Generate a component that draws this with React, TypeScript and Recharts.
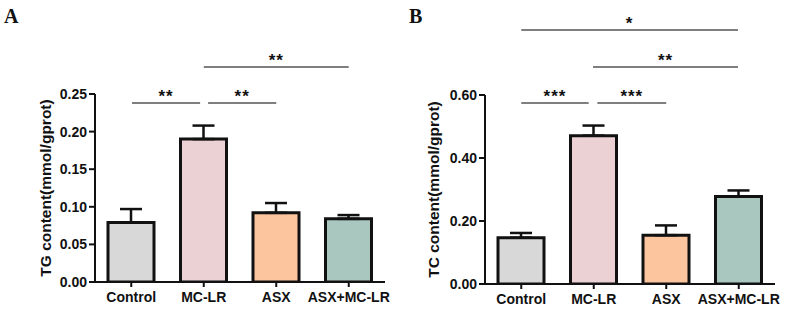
import React from "react";
import { Bar, BarChart, Cell, ErrorBar, ReferenceLine, XAxis, YAxis } from "recharts";

const GROUPS = ["Control", "MC-LR", "ASX", "ASX+MC-LR"];
const COLORS = ["#d8d8d8", "#ebd0d4", "#fdc59d", "#a9c6bf"];

const TG_MEAN = [0.079, 0.19, 0.092, 0.084];
const TG_SEM = [0.018, 0.018, 0.013, 0.005];
const TG_TICKS = [0, 0.05, 0.1, 0.15, 0.2, 0.25];

const TC_MEAN = [0.147, 0.471, 0.155, 0.278];
const TC_SEM = [0.015, 0.032, 0.031, 0.019];
const TC_TICKS = [0, 0.2, 0.4, 0.6];

// brackets: start / end in group units (0.5 = centre of first group), height in y units
const TG_BRACKETS = [
  { x1: 0.51, x2: 1.45, y: 0.238, label: "**" },
  { x1: 1.56, x2: 2.5, y: 0.238, label: "**" },
  { x1: 1.5, x2: 3.5, y: 0.286, label: "**" },
];
const TC_BRACKETS = [
  { x1: 0.5, x2: 1.43, y: 0.575, label: "***" },
  { x1: 1.55, x2: 2.5, y: 0.575, label: "***" },
  { x1: 1.49, x2: 3.49, y: 0.689, label: "**" },
  { x1: 0.5, x2: 3.49, y: 0.806, label: "*" },
];

const FONT = "'Liberation Sans', Arial, sans-serif";
const INK = "#111";

function Panel({
  mean,
  sem,
  ticks,
  brackets,
  title,
  left,
  width,
  margin,
  labelX,
}: {
  mean: number[];
  sem: number[];
  ticks: number[];
  brackets: { x1: number; x2: number; y: number; label: string }[];
  title: string;
  left: number;
  width: number;
  margin: { top: number; right: number; bottom: number; left: number };
  labelX: number;
}) {
  const data = GROUPS.map((g, i) => ({
    name: g,
    slot: i + 0.5,
    value: mean[i],
    err: [0, sem[i]],
  }));
  const top = ticks[ticks.length - 1];

  return (
    <div style={{ position: "absolute", left, top: 0 }}>
      <BarChart width={width} height={313} data={data} margin={margin}>
        <XAxis
          xAxisId="cat"
          dataKey="name"
          height={25}
          tickSize={5}
          tickMargin={5}
          axisLine={{ stroke: INK, strokeWidth: 2 }}
          tickLine={{ stroke: INK, strokeWidth: 2 }}
          tick={{ fill: INK, fontSize: 14, fontWeight: 700, fontFamily: FONT }}
          interval={0}
        />
        <XAxis xAxisId="n" dataKey="slot" type="number" domain={[0, 4]} allowDataOverflow hide />
        <YAxis
          width={55}
          domain={[0, top]}
          ticks={ticks}
          allowDataOverflow
          tickSize={6}
          tickMargin={2}
          axisLine={{ stroke: INK, strokeWidth: 2 }}
          tickLine={{ stroke: INK, strokeWidth: 2 }}
          tick={{ fill: INK, fontSize: 14, fontWeight: 700, fontFamily: FONT }}
          tickFormatter={(v) => Number(v).toFixed(2)}
          label={(p: any) => {
            const vb = p.viewBox;
            const cy = vb.y + vb.height / 2;
            return (
              <text
                x={labelX}
                y={cy}
                transform={`rotate(-90 ${labelX} ${cy})`}
                textAnchor="middle"
                dominantBaseline="central"
                fill={INK}
                fontSize={15.5}
                fontWeight={700}
                fontFamily={FONT}
              >
                {title}
              </text>
            );
          }}
        />
        <Bar
          xAxisId="cat"
          dataKey="value"
          barSize={46}
          stroke={INK}
          strokeWidth={3}
          isAnimationActive={false}
        >
          {data.map((_, i) => (
            <Cell key={i} fill={COLORS[i]} />
          ))}
          <ErrorBar dataKey="err" direction="y" width={11} stroke={INK} strokeWidth={2.5} />
        </Bar>
        {brackets.map((b, i) => (
          <ReferenceLine
            key={i}
            xAxisId="n"
            ifOverflow="visible"
            segment={[
              { x: b.x1, y: b.y },
              { x: b.x2, y: b.y },
            ]}
            stroke="#555"
            strokeWidth={1.5}
            label={(p: any) => {
              const vb = p.viewBox;
              return (
                <text
                  x={vb.x + vb.width / 2}
                  y={vb.y - 1}
                  textAnchor="middle"
                  fill={INK}
                  fontSize={17}
                  fontWeight={700}
                  fontFamily={FONT}
                  letterSpacing={1}
                >
                  {b.label}
                </text>
              );
            }}
          />
        ))}
      </BarChart>
    </div>
  );
}

export default function App() {
  const letter: React.CSSProperties = {
    position: "absolute",
    top: 5,
    fontFamily: "'Liberation Serif', 'Times New Roman', serif",
    fontWeight: 700,
    fontSize: 20,
    color: INK,
  };
  return (
    <div style={{ position: "absolute", left: 0, top: 0, width: 787, height: 313, background: "#fff" }}>
      <Panel
        mean={TG_MEAN}
        sem={TG_SEM}
        ticks={TG_TICKS}
        brackets={TG_BRACKETS}
        title="TG content(mmol/gprot)"
        left={0}
        width={393}
        margin={{ top: 94, right: 8, bottom: 6, left: 40 }}
        labelX={45}
      />
      <Panel
        mean={TC_MEAN}
        sem={TC_SEM}
        ticks={TC_TICKS}
        brackets={TC_BRACKETS}
        title="TC content(mmol/gprot)"
        left={393}
        width={394}
        margin={{ top: 95, right: 12, bottom: 4, left: 37 }}
        labelX={40}
      />
      <div style={{ ...letter, left: 4 }}>A</div>
      <div style={{ ...letter, left: 409 }}>B</div>
    </div>
  );
}
